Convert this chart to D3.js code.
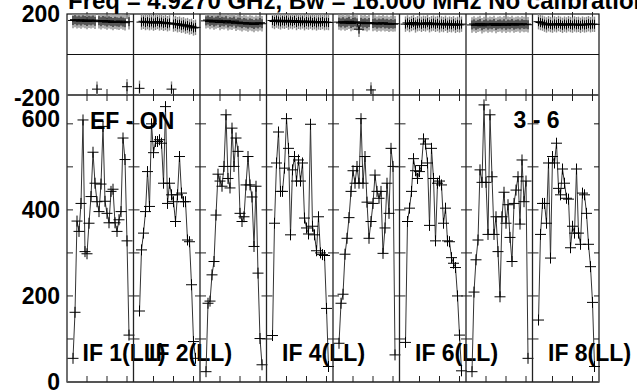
<!DOCTYPE html>
<html><head><meta charset="utf-8">
<script src="https://cdn.jsdelivr.net/npm/d3@7/dist/d3.min.js"></script>
<style>
body{margin:0;background:#fff;overflow:hidden}
svg text{font-family:"Liberation Sans",Arial,Helvetica,sans-serif;font-weight:bold;fill:#000}
</style>
</head><body>
<svg id="c" width="637" height="391"></svg>
<script>
// ---------- data ----------
const title = "Freq = 4.9270 GHz, Bw = 16.000 MHz No calibration";
const sourceLabel = "EF - ON";
const baselineLabel = "3 - 6";
const ifLabels = ["IF 1(LL)", "IF 2(LL)", "", "IF 4(LL)", "", "IF 6(LL)", "", "IF 8(LL)"];
const channels = [3,4,5,6,7,8,9,10,11,12,13,14,15,16,17,18,19,20,21,22,23,24,25,26,27,28,29,30,31];
const channelTicks = [10, 20, 30];
const ampTicks = [100, 200, 300, 400, 500, 600];
const ampLabels = [0, 200, 400, 600];
const phaseLabels = [200, -200];

const amp1 = [55,162,374,350,415,609,303,298,369,431,534,462,419,396,460,594,420,392,370,443,448,370,350,377,396,567,517,328,109];
const amp2 = [165,307,346,396,489,408,600,533,559,559,563,555,462,640,415,462,435,419,373,435,524,439,419,419,330,326,226,94,55];
const amp3 = [24,183,188,249,280,388,483,467,455,501,621,473,451,590,501,567,536,392,373,384,458,524,458,430,315,455,253,101,40];
const amp4 = [108,369,509,581,443,443,497,612,543,342,493,524,467,516,467,509,381,358,344,599,362,342,305,384,300,296,294,171,36];
const amp5 = [90,183,204,297,334,382,443,491,462,501,462,612,462,524,418,334,373,415,481,443,427,443,299,358,462,392,543,501,63];
const amp6 = [92,373,404,443,519,491,473,489,503,565,553,509,364,543,473,328,462,467,458,369,404,328,326,289,276,266,200,109,26];
const amp7 = [24,209,284,330,493,464,644,464,343,621,477,343,384,303,198,384,441,369,412,336,280,415,446,477,367,516,419,467,55];
const amp8 = [144,343,415,415,369,509,288,524,509,555,450,435,495,462,427,425,312,362,346,495,346,320,439,435,392,320,268,185,36];

const ph1 = [168,172,166,170,165,171,168,163,169,166,170,164,-171,167,162,168,165,160,166,163,158,164,161,159,165,160,157,-159,162];
const ph2 = [-167,160,164,158,162,157,161,155,159,163,156,160,154,158,152,156,-171,150,153,147,150,144,147,140,143,136,139,131,134];
const ph3 = [166,170,163,168,160,165,169,158,164,161,167,156,162,159,165,154,160,157,152,158,155,150,156,153,148,155,151,157,152];
const ph4 = [168,163,170,165,161,167,164,169,160,166,162,168,158,164,161,166,157,163,160,165,158,162,156,161,159,163,157,160,158];
const ph5 = [160,156,162,155,159,164,153,158,161,156,125,159,154,157,152,158,-175,153,156,150,155,152,157,151,154,149,153,150,152];
const ph6 = [150,156,148,153,158,146,152,155,149,154,151,157,147,152,155,149,153,146,151,148,154,145,150,147,152,144,149,146,150];
const ph7 = [146,151,144,149,153,142,148,152,145,150,147,153,143,149,151,146,152,144,150,147,153,145,149,151,146,152,148,150,147];
const ph8 = [162,158,155,150,146,152,148,145,151,147,153,149,144,150,146,152,148,145,151,147,149,144,150,146,148,152,147,150,149];
const phaseErr = 38;

const ampSeries = [amp1, amp2, amp3, amp4, amp5, amp6, amp7, amp8];
const phaseSeries = [ph1, ph2, ph3, ph4, ph5, ph6, ph7, ph8];

// ---------- layout ----------
const L = 67, R = 599, T = 14, MID = 95, B = 382;
const svg = d3.select("#c");

const xIF = d3.scaleBand().domain(d3.range(ifLabels.length)).range([L, R]).paddingInner(0).paddingOuter(0);
const xCh = d3.scaleLinear().domain([0, 33.25]).range([0, xIF.bandwidth()]);
const yAmp = d3.scaleLinear().domain([0, 667]).range([B, MID]);
const yPh = d3.scaleLinear().domain([-200, 200]).range([MID, T]);

// title (partly above the view)
svg.append("text").attr("x", 68).attr("y", 8.5).attr("font-size", 24).text(title);

// frame
const frame = svg.append("g").attr("fill", "none");
frame.append("rect").attr("x", L).attr("y", T).attr("width", R - L).attr("height", B - T)
  .attr("stroke", "#111").attr("stroke-width", 1.2);
frame.append("line").attr("x1", L).attr("x2", R).attr("y1", yPh(0)).attr("y2", yPh(0))
  .attr("stroke", "#111").attr("stroke-width", 1.2);
frame.append("line").attr("x1", L).attr("x2", R).attr("y1", MID).attr("y2", MID)
  .attr("stroke", "#555").attr("stroke-width", 1.8);
frame.append("line").attr("x1", L).attr("x2", R).attr("y1", B).attr("y2", B)
  .attr("stroke", "#555").attr("stroke-width", 1.8);

// right frame ticks
ampTicks.forEach(v => {
  frame.append("line").attr("x1", R - 5).attr("x2", R).attr("y1", yAmp(v)).attr("y2", yAmp(v))
    .attr("stroke", "#111").attr("stroke-width", 1);
});

const cross = (x, y, hw, hh) => `M${x - hw},${y}H${x + hw}M${x},${y - hh}V${y + hh}`;

ifLabels.forEach((lab, i) => {
  const g = svg.append("g").attr("transform", `translate(${xIF(i)},0)`);
  if (i > 0) {
    g.append("line").attr("x1", 0).attr("x2", 0).attr("y1", T).attr("y2", B)
      .attr("stroke", "#222").attr("stroke-width", 1.3);
  }
  // amplitude y ticks on left edge of each panel
  ampTicks.forEach(v => {
    g.append("line").attr("x1", i > 0 ? -5 : 0).attr("x2", 6)
      .attr("y1", yAmp(v)).attr("y2", yAmp(v)).attr("stroke", "#222").attr("stroke-width", 1);
  });
  // channel ticks
  channelTicks.forEach(c => {
    const x = xCh(c);
    g.append("line").attr("x1", x).attr("x2", x).attr("y1", B).attr("y2", B - 6).attr("stroke", "#222");
    g.append("line").attr("x1", x).attr("x2", x).attr("y1", MID - 6).attr("y2", MID + 6).attr("stroke", "#222");
    g.append("line").attr("x1", x).attr("x2", x).attr("y1", T - 2).attr("y2", T + 5).attr("stroke", "#222");
  });

  // phase panel
  const ph = phaseSeries[i].map((p, k) => ({c: channels[k], p}));
  g.append("g").selectAll("line").data(ph).join("line")
    .attr("x1", d => xCh(d.c)).attr("x2", d => xCh(d.c))
    .attr("y1", d => yPh(Math.min(200, d.p + phaseErr))).attr("y2", d => yPh(Math.max(-200, d.p - phaseErr)))
    .attr("stroke", "#8a8a8a").attr("stroke-width", 1.4);
  g.append("path").datum(ph)
    .attr("d", d3.line().defined(d => d.p > 0).x(d => xCh(d.c)).y(d => yPh(d.p)))
    .attr("fill", "none").attr("stroke", "#111").attr("stroke-width", 1);
  g.append("path")
    .attr("d", ph.map(d => cross(xCh(d.c), yPh(d.p), 5, 4.5)).join(""))
    .attr("fill", "none").attr("stroke", "#000").attr("stroke-width", 1);

  // amplitude panel
  const am = ampSeries[i].map((a, k) => ({c: channels[k], a}));
  g.append("path").datum(am)
    .attr("d", d3.line().x(d => xCh(d.c)).y(d => yAmp(d.a)))
    .attr("fill", "none").attr("stroke", "#333").attr("stroke-width", 1);
  g.append("path")
    .attr("d", am.map(d => cross(xCh(d.c), yAmp(d.a), 5.5, 5.5)).join(""))
    .attr("fill", "none").attr("stroke", "#000").attr("stroke-width", 1);

  if (lab) {
    g.append("text").attr("x", 15.5).attr("y", 361).attr("font-size", 23).text(lab);
  }
});

// axis labels
const labG = svg.append("g").attr("text-anchor", "end").attr("font-size", 23);
phaseLabels.forEach(v => {
  labG.append("text").attr("x", 60).attr("y", yPh(v) + (v < 0 ? 3 : 0)).attr("dy", "0.36em").text(v);
});
ampLabels.forEach(v => {
  labG.append("text").attr("x", 60).attr("y", yAmp(v) - (v === 600 ? 5 : 0)).attr("dy", "0.36em").text(v);
});

svg.append("text").attr("x", 90).attr("y", 129).attr("font-size", 23).text(sourceLabel);
svg.append("text").attr("x", 513.5).attr("y", 128).attr("font-size", 23).text(baselineLabel);
</script>
</body></html>
